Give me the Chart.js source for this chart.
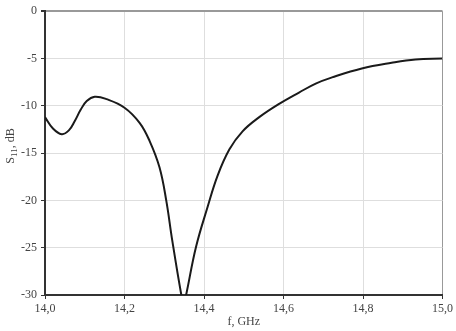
<!DOCTYPE html>
<html>
<head>
<meta charset="utf-8">
<script src="https://cdn.jsdelivr.net/npm/chart.js@4/dist/chart.umd.min.js"></script>
<style>
  html, body { margin: 0; padding: 0; background: #fff; }
  #wrap { width: 456px; height: 331px; }
</style>
</head>
<body>
<div id="wrap"><canvas id="s11Chart"></canvas></div>
<script>
// frequency, GHz
const freq = [14.000, 14.020, 14.042, 14.060, 14.075, 14.090, 14.105, 14.125, 14.155, 14.200, 14.238,
              14.263, 14.288, 14.305, 14.320, 14.343, 14.349, 14.355, 14.380, 14.409, 14.434,
              14.464, 14.497, 14.539, 14.589, 14.639, 14.681, 14.722, 14.797, 14.872,
              14.932, 15.000];
// S11, dB
const s11 = [-11.2, -12.4, -13.0, -12.6, -11.6, -10.4, -9.5, -9.05, -9.3, -10.2, -11.8,
             -13.7, -16.5, -20.0, -24.2, -30.0, -31.0, -30.0, -24.9, -20.7, -17.4,
             -14.6, -12.7, -11.2, -9.8, -8.6, -7.65, -7.0, -6.05, -5.45,
             -5.1, -5.0];

const X_MIN = 14.0, X_MAX = 15.0, X_STEP = 0.2;
const Y_MIN = -30, Y_MAX = 0, Y_STEP = 5;
const AXIS_TITLE_X = 'f, GHz';

const serif = "'Liberation Serif', 'Times New Roman', serif";

// axis titles drawn by hand so S11 can get its subscript
const titlesPlugin = {
  id: 'titles',
  afterDraw(chart) {
    const c = chart.ctx;
    const a = chart.chartArea;
    c.save();
    c.fillStyle = '#444';
    c.textBaseline = 'middle';
    c.font = '12px ' + serif;
    c.textAlign = 'center';
    c.fillText(AXIS_TITLE_X, (a.left + a.right) / 2, 322);

    // rotated y title: S, subscript 11, ", dB"
    c.translate(11, 146);
    c.rotate(-Math.PI / 2);
    c.textAlign = 'left';
    const big = '12px ' + serif, small = '9px ' + serif;
    c.font = big;
    const wS = c.measureText('S').width;
    const wRest = c.measureText(', dB').width;
    c.font = small;
    const wSub = c.measureText('11').width;
    let x = -(wS + wSub + wRest) / 2;
    c.font = big;
    c.fillText('S', x, 0);
    x += wS;
    c.font = small;
    c.fillText('11', x, 4);
    x += wSub;
    c.font = big;
    c.fillText(', dB', x, 0);
    c.restore();
  }
};

const ctx = document.getElementById('s11Chart').getContext('2d');

const s11Chart = new Chart(ctx, {
  type: 'scatter',
  data: {
    datasets: [{
      label: 'S11',
      data: freq.map((f, i) => ({ x: f, y: s11[i] })),
      showLine: true,
      borderColor: '#1a1a1a',
      borderWidth: 2,
      tension: 0.4,
      pointRadius: 0,
      fill: false
    }]
  },
  options: {
    animation: false,
    responsive: true,
    maintainAspectRatio: false,
    layout: { padding: { top: 10, right: 12, left: 0, bottom: 0 } },
    plugins: {
      legend: { display: false },
      tooltip: { enabled: false }
    },
    scales: {
      x: {
        type: 'linear',
        min: X_MIN,
        max: X_MAX,
        afterFit: (scale) => { scale.height = 36; },
        ticks: {
          stepSize: X_STEP,
          color: '#444',
          padding: 3,
          maxRotation: 0,
          font: { family: serif, size: 12 },
          callback: (v) => v.toFixed(1).replace('.', ',')
        },
        grid: {
          color: (c) => (c.tick && Math.abs(c.tick.value - X_MAX) < 1e-6) ? '#999' : '#dedede',
          lineWidth: 1,
          tickLength: 4,
          tickColor: '#333'
        },
        border: { color: '#333', width: 2 }
      },
      y: {
        min: Y_MIN,
        max: Y_MAX,
        afterFit: (scale) => { scale.width = 45; },
        ticks: {
          stepSize: Y_STEP,
          color: '#444',
          padding: 4,
          font: { family: serif, size: 12 },
          callback: (v) => String(v)
        },
        grid: {
          color: (c) => (c.tick && c.tick.value === Y_MAX) ? '#999' : '#dedede',
          lineWidth: (c) => (c.tick && c.tick.value === Y_MAX) ? 2 : 1,
          tickLength: 4,
          tickColor: '#333'
        },
        border: { color: '#333', width: 2 }
      }
    }
  },
  plugins: [titlesPlugin]
});
</script>
</body>
</html>
